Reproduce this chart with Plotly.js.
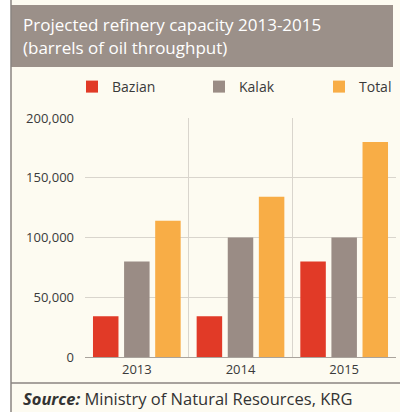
<!DOCTYPE html>
<html>
<head>
<meta charset="utf-8">
<script src="https://cdn.plot.ly/plotly-3.0.1.min.js"></script>
<style>
  html, body { margin: 0; padding: 0; background: #ffffff; }
  #chart { width: 400px; height: 412px; }
</style>
</head>
<body>
<div id="chart"></div>
<script>
var years = ['2013', '2014', '2015'];
var bazian = [34000, 34000, 80000];
var kalak = [80000, 100000, 100000];
var total = [114000, 134000, 180000];
var yTicks = [0, 50000, 100000, 150000, 200000];
var yTickText = ['0', '50,000', '100,000', '150,000', '200,000'];

var chartDiv = document.getElementById('chart');

// plot area in pixels, used to turn pixel positions into paper coords
var W = 400, H = 412;
var plotL = 85, plotR = 396, plotT = 118, plotB = 357;
function px(x) { return (x - plotL) / (plotR - plotL); }
function py(y) { return (plotB - y) / (plotB - plotT); }

function legendAt(x, font) {
    return {
        orientation: 'h',
        x: px(x),
        xanchor: 'left',
        y: py(87),
        yanchor: 'middle',
        itemwidth: 30,
        font: {family: font, size: 14, color: '#3a3a3a'},
        bgcolor: 'rgba(0,0,0,0)'
    };
}

function drawChart() {
    let font = 'Open Sans, Noto Sans, sans-serif';

    let traces = [
        {x: years, y: bazian, name: 'Bazian', type: 'bar', legend: 'legend', marker: {color: '#e13a27'}},
        {x: years, y: kalak, name: 'Kalak', type: 'bar', legend: 'legend2', marker: {color: '#9a8c85'}},
        {x: years, y: total, name: 'Total', type: 'bar', legend: 'legend3', marker: {color: '#f8ad46'}}
    ];

    let layout = {
        width: W,
        height: H,
        margin: {l: plotL, r: W - plotR, t: plotT, b: H - plotB, autoexpand: false},
        paper_bgcolor: '#ffffff',
        plot_bgcolor: 'rgba(0,0,0,0)',
        barmode: 'group',
        bargap: 0.1,
        bargroupgap: 0.18,
        showlegend: true,
        legend: legendAt(72, font),
        legend2: legendAt(199, font),
        legend3: legendAt(319, font),
        xaxis: {
            type: 'category',
            tickson: 'boundaries',
            showgrid: true,
            gridcolor: '#d9d5cd',
            gridwidth: 1,
            showline: true,
            linecolor: '#a9a39c',
            ticks: '',
            tickfont: {family: font, size: 13, color: '#3a3a3a'},
            fixedrange: true
        },
        yaxis: {
            range: [0, 200000],
            tickvals: yTicks,
            ticktext: yTickText,
            showgrid: true,
            gridcolor: '#d9d5cd',
            zeroline: false,
            ticks: '',
            ticklabelstandoff: 10,
            tickfont: {family: font, size: 13, color: '#3a3a3a'},
            fixedrange: true
        },
        shapes: [
            // cream panel
            {type: 'rect', xref: 'paper', yref: 'paper', layer: 'below',
             x0: px(11), x1: px(400), y0: py(412), y1: py(0),
             fillcolor: '#fdfbf1', line: {width: 0}},
            // header band
            {type: 'rect', xref: 'paper', yref: 'paper', layer: 'below',
             x0: px(11), x1: px(393), y0: py(67), y1: py(5),
             fillcolor: '#9b9089', line: {width: 0}},
            // left frame line
            {type: 'line', xref: 'paper', yref: 'paper',
             x0: px(11), x1: px(11), y0: py(412), y1: py(0),
             line: {color: '#8a8580', width: 1.5}},
            // separator above source
            {type: 'line', xref: 'paper', yref: 'paper',
             x0: px(11), x1: px(400), y0: py(383), y1: py(383),
             line: {color: '#8a8580', width: 1.5}}
        ],
        annotations: [
            {text: 'Projected refinery capacity 2013-2015',
             xref: 'paper', yref: 'paper', x: px(21), y: py(25),
             xanchor: 'left', yanchor: 'middle', showarrow: false,
             font: {family: font, size: 17, color: '#ffffff'}},
            {text: '(barrels of oil throughput)',
             xref: 'paper', yref: 'paper', x: px(21), y: py(47),
             xanchor: 'left', yanchor: 'middle', showarrow: false,
             font: {family: font, size: 17, color: '#ffffff'}},
            {text: '<b><i>Source:</i></b> Ministry of Natural Resources, KRG',
             xref: 'paper', yref: 'paper', x: px(21), y: py(398),
             xanchor: 'left', yanchor: 'middle', showarrow: false,
             font: {family: font, size: 16.5, color: '#333333'}}
        ]
    };

    Plotly.newPlot(chartDiv, traces, layout, {displayModeBar: false, staticPlot: true});
}

drawChart();
</script>
</body>
</html>
